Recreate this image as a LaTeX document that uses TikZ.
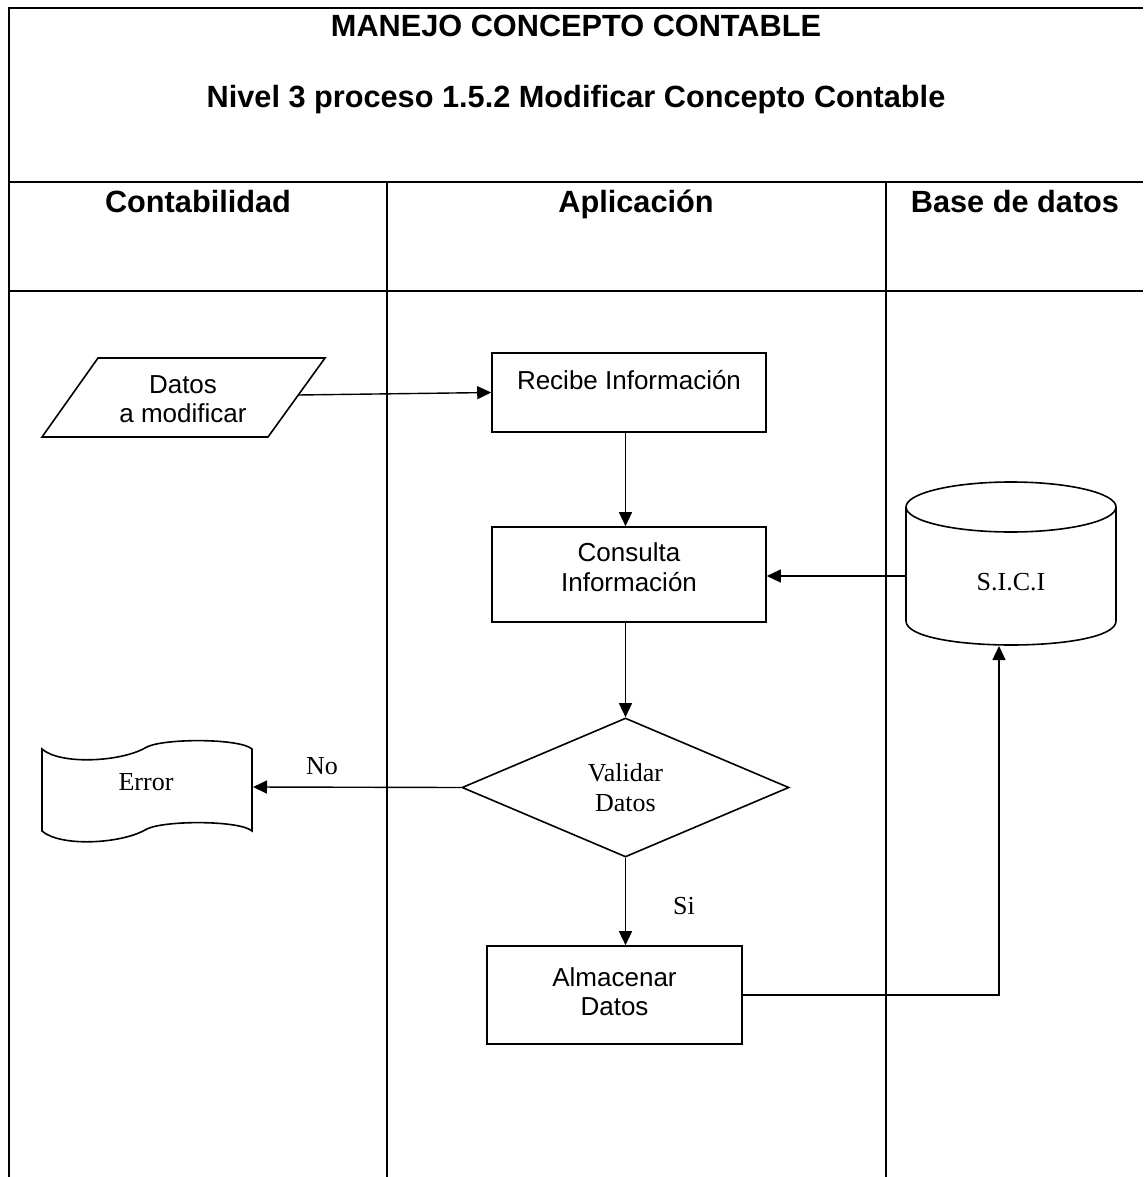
\documentclass[tikz,border=0pt]{standalone}
\usepackage{fontspec}
\setmainfont{Liberation Serif}
\newfontfamily\arialf{Liberation Sans}
\usetikzlibrary{shapes.geometric,arrows.meta}
\begin{document}
\begin{tikzpicture}[x=1pt,y=-1pt,
  frame/.style={line width=2.4pt},
  shp/.style={draw,line width=1.6pt},
  box/.style={shp,rectangle,inner sep=0pt},
  arr/.style={line width=1.4pt,-{Triangle[length=14pt,width=13pt]}},
  ttl/.style={font=\arialf\bfseries\fontsize{30.7}{34}\selectfont,anchor=base},
  sans/.style={font=\arialf\fontsize{26}{29.5}\selectfont,align=center},
  serif/.style={font=\fontsize{26}{30}\selectfont,align=center}]
\useasboundingbox (0,0) rectangle (1143,1177);

% frame and lanes
\draw[frame] (1143,8) -- (9,8) -- (9,1177);
\draw[frame] (9,182) -- (1143,182);
\draw[frame] (9,291) -- (1143,291);
\draw[frame] (387,182) -- (387,1177);
\draw[frame] (886,182) -- (886,1177);

% titles
\node[ttl] (t1) at (576,37) {MANEJO CONCEPTO CONTABLE};
\node[ttl] (t2) at (576,108) {Nivel 3 proceso 1.5.2 Modificar Concepto Contable};
\node[ttl] (h1) at (198,212) {Contabilidad};
\node[ttl] (h2) at (636,212) {Aplicación};
\node[ttl] (h3) at (1015,212) {Base de datos};

% input parallelogram
\draw[shp] (42,437) -- (98,358) -- (325,358) -- (268,437) -- cycle;
\node[sans] (datos) at (183,399) {Datos\\a modificar};
\coordinate (datosE) at (298,395);

% process boxes
\node[box,minimum width=274pt,minimum height=79pt] (recibe) at (629,392.5) {};
\node[sans] (recibeT) at (629,380) {Recibe Información};
\node[box,minimum width=274pt,minimum height=95pt] (consulta) at (629,574.5) {};
\node[sans] (consultaT) at (629,567) {Consulta\\Información};
\node[shp,diamond,minimum width=327pt,minimum height=139pt,inner sep=0pt,serif] (valida) at (625.5,787.5) {Validar\\Datos};
\node[box,minimum width=255pt,minimum height=98pt] (almacena) at (614.5,995) {};
\node[sans] (almacenaT) at (614.5,991.5) {Almacenar\\Datos};

% database cylinder
\draw[shp] (906,507) -- (906,621) .. controls (906,653) and (1116,653) .. (1116,621) -- (1116,507);
\draw[shp] (1011,507) ellipse [x radius=105pt, y radius=25pt];
\node[serif] (sici) at (1011,582) {S.I.C.I};
\coordinate (dbW) at (906,576);
\coordinate (dbS) at (999,646);

% error document
\draw[shp] (42,749) .. controls (60,765) and (120,762) .. (145,748)
  .. controls (160,738) and (240,738) .. (252,749) -- (252,831)
  .. controls (240,820) and (160,820) .. (145,830)
  .. controls (120,844) and (60,847) .. (42,831) -- cycle;
\node[serif] (error) at (146,782) {Error};
\coordinate (errE) at (253,787);

% connectors
\draw[arr] (datosE) -- (recibe.west);
\draw[arr] (recibe.south -| valida.north) -- (consulta.north -| valida.north);
\draw[arr] (dbW) -- (consulta.east |- dbW);
\draw[arr] (consulta.south -| valida.north) -- (valida.north);
\draw[arr] (valida.west) -- (errE);
\node[serif] (no) at (322,766) {No};
\draw[arr] (valida.south) -- (valida.south |- almacena.north);
\node[serif] (si) at (684,906) {Si};
\draw[arr] (almacena.east) -| (dbS);
\end{tikzpicture}
\end{document}
